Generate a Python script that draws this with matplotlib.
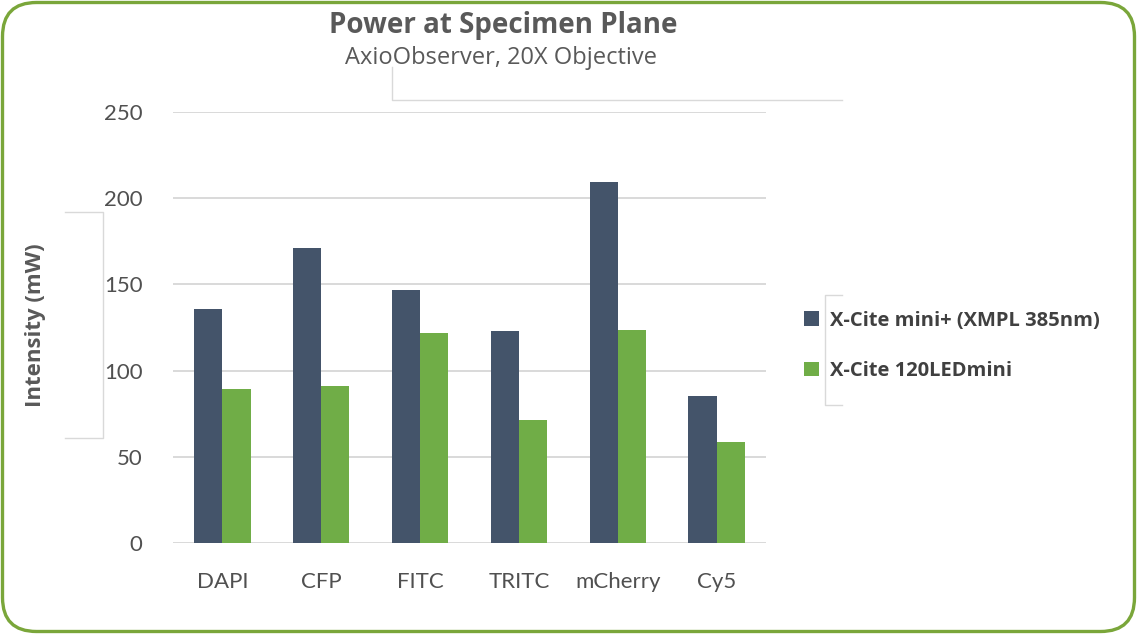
import matplotlib.pyplot as plt
import numpy as np
from matplotlib.patches import FancyBboxPatch

# 数据
filters = ['DAPI', 'CFP', 'FITC', 'TRITC', 'mCherry', 'Cy5']
mini_plus = [136, 171, 147, 123, 209.5, 85]
led_mini = [89.5, 91, 122, 71.5, 123.5, 58.5]
series_names = ['X-Cite mini+ (XMPL 385nm)', 'X-Cite 120LEDmini']
colors = ['#44546a', '#70ad47']
yticks = [0, 50, 100, 150, 200, 250]

W, H = 1137, 634
fig = plt.figure(figsize=(W / 100, H / 100), dpi=100)

# 背景层：圆角边框和浅灰色括线（像素坐标）
bg = fig.add_axes([0, 0, 1, 1])
bg.set_xlim(0, W)
bg.set_ylim(H, 0)
bg.axis('off')
bg.add_patch(FancyBboxPatch((2.5, 2.5), W - 5, H - 5,
                            boxstyle='round,pad=0,rounding_size=34',
                            fill=False, edgecolor='#7aa63a', linewidth=2.4))
line_kw = dict(color='#d9d9d9', linewidth=1.0)
bg.plot([392, 392, 842], [67, 100, 100], **line_kw)
bg.plot([65, 103, 103, 65], [212, 212, 438, 438], **line_kw)
bg.plot([842, 825, 825, 842], [295, 295, 405, 405], **line_kw)

# 主图
ax = fig.add_axes([173 / W, 91 / H, (766 - 173) / W, (543 - 112) / H])
ax.set_facecolor('none')
x = np.arange(len(filters))
w = 0.285
b1 = ax.bar(x - w / 2, mini_plus, w, color=colors[0], label=series_names[0], zorder=3)
b2 = ax.bar(x + w / 2, led_mini, w, color=colors[1], label=series_names[1], zorder=3)

ax.set_xlim(-0.5, len(filters) - 0.5)
ax.set_ylim(0, 250)
ax.set_yticks(yticks)
ax.set_xticks(x)
ax.set_xticklabels(filters)
ax.yaxis.grid(True, color='#d9d9d9', linewidth=1.4, zorder=0)
for s in ax.spines.values():
    s.set_visible(False)
ax.tick_params(length=0)
tick_font = ['Lato', 'DejaVu Sans']
for lab in ax.get_yticklabels() + ax.get_xticklabels():
    lab.set_family(tick_font)
    lab.set_fontsize(16)
    lab.set_color('#505050')
ax.tick_params(axis='y', pad=22)
ax.tick_params(axis='x', pad=21)

# 标题与坐标轴标签
fig.text(503 / W, 1 - 26 / H, 'Power at Specimen Plane', ha='center', va='center',
         fontsize=20, fontweight='bold', color='#595959', family='Open Sans')
fig.text(501 / W, 1 - 58 / H, 'AxioObserver, 20X Objective', ha='center', va='center',
         fontsize=17, color='#595959', family='Open Sans')
fig.text(36 / W, 1 - 325 / H, 'Intensity (mW)', ha='center', va='center', rotation=90,
         fontsize=16, fontweight='bold', color='#595959', family='Open Sans')

leg = ax.legend(handles=[b1, b2], loc='center left',
                bbox_to_anchor=(786 / W, 1 - 346 / H), bbox_transform=fig.transFigure,
                frameon=False, handlelength=0.75, handleheight=0.75, handletextpad=0.55,
                labelspacing=1.5, prop={'family': 'Open Sans', 'weight': 'bold', 'size': 14.5})
for t in leg.get_texts():
    t.set_color('#404040')

fig.savefig('out.png', dpi=100)
